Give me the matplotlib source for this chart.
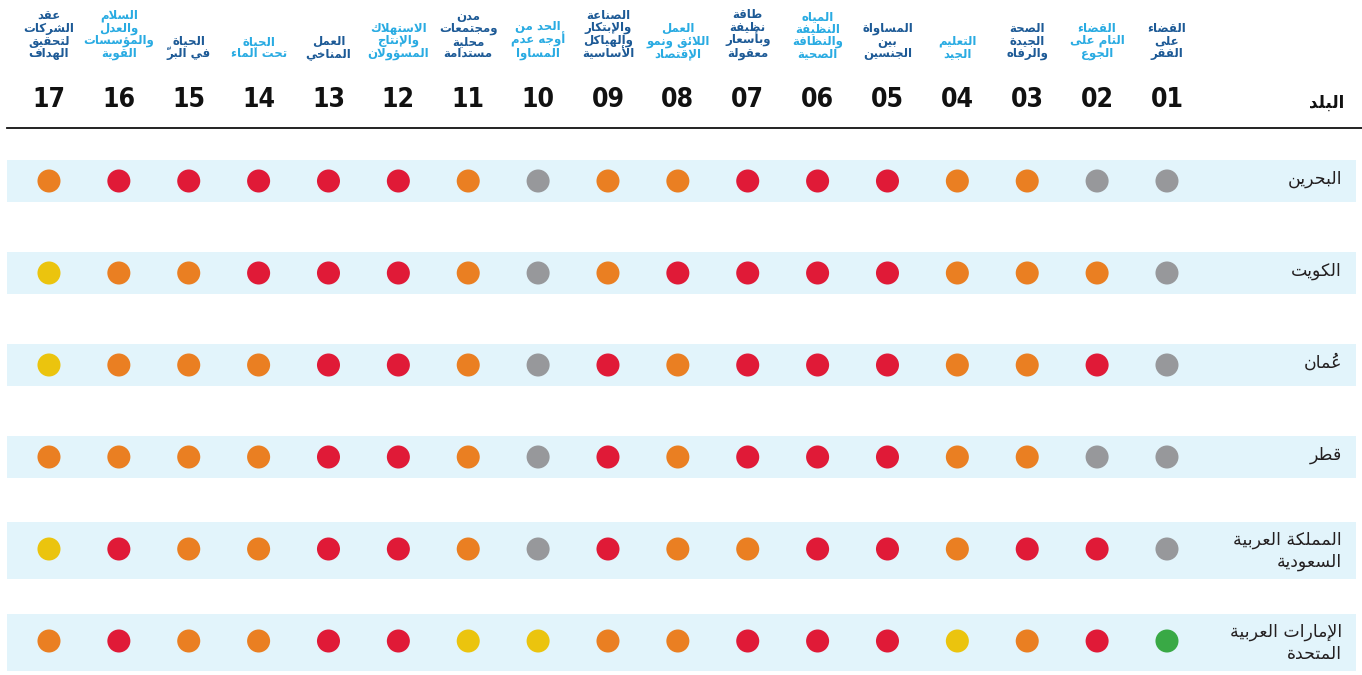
import matplotlib
matplotlib.use("Agg")
import matplotlib.pyplot as plt
from matplotlib import font_manager

# ---- data ----
goal_numbers = ["01", "02", "03", "04", "05", "06", "07", "08", "09",
                "10", "11", "12", "13", "14", "15", "16", "17"]
goal_names = [
    "القضاء\nعلى\nالفقر",
    "القضاء\nالتام على\nالجوع",
    "الصحة\nالجيدة\nوالرفاه",
    "التعليم\nالجيد",
    "المساواة\nبين\nالجنسين",
    "المياه\nالنظيفة\nوالنظافة\nالصحية",
    "طاقة\nنظيفة\nوبأسعار\nمعقولة",
    "العمل\nاللائق ونمو\nالإقتصاد",
    "الصناعة\nوالإبتكار\nوالهياكل\nالأساسية",
    "الحد من\nأوجه عدم\nالمساوا",
    "مدن\nومجتمعات\nمحلية\nمستدامة",
    "الاستهلاك\nوالإنتاج\nالمسؤولان",
    "العمل\nالمناخي",
    "الحياة\nتحت الماء",
    "الحياة\nفي البرّ",
    "السلام\nوالعدل\nوالمؤسسات\nالقوية",
    "عقد\nالشركات\nلتحقيق\nالهداف",
]
countries = [
    "البحرين",
    "الكويت",
    "عُمان",
    "قطر",
    "المملكة العربية\nالسعودية",
    "الإمارات العربية\nالمتحدة",
]
# status per goal 01..17: g=grey, r=red, o=orange, y=yellow, G=green
bahrain = ["g", "g", "o", "o", "r", "r", "r", "o", "o", "g", "o", "r", "r", "r", "r", "r", "o"]
kuwait  = ["g", "o", "o", "o", "r", "r", "r", "r", "o", "g", "o", "r", "r", "r", "o", "o", "y"]
oman    = ["g", "r", "o", "o", "r", "r", "r", "o", "r", "g", "o", "r", "r", "o", "o", "o", "y"]
qatar   = ["g", "g", "o", "o", "r", "r", "r", "o", "r", "g", "o", "r", "r", "o", "o", "o", "o"]
saudi   = ["g", "r", "r", "o", "r", "r", "o", "o", "r", "g", "o", "r", "r", "o", "o", "r", "y"]
uae     = ["G", "r", "o", "y", "r", "r", "r", "o", "o", "y", "y", "r", "r", "o", "o", "r", "o"]
statuses = [bahrain, kuwait, oman, qatar, saudi, uae]
header_title = "البلد"

status_colors = {"g": "#97989b", "r": "#e01a37", "o": "#ea7f22",
                 "y": "#ebc40e", "G": "#39a945"}
dark_blue = "#1d5a96"
light_blue = "#29abe2"

# narrow font for the goal numbers if there is one
_fonts = font_manager.fontManager.ttflist
_names = {f.name for f in _fonts}
if "Liberation Sans Narrow" in _names:
    num_font = dict(family="Liberation Sans Narrow")
elif any(f.name == "DejaVu Sans" and f.stretch == "condensed" for f in _fonts):
    num_font = dict(family="DejaVu Sans", fontstretch="condensed")
else:
    num_font = dict(family="DejaVu Sans")


# ---- tiny arabic shaper (matplotlib has no arabic shaping / bidi) ----
_forms_order = [("\u0621", 1), ("\u0622", 2), ("\u0623", 2), ("\u0624", 2), ("\u0625", 2),
                ("\u0626", 4), ("\u0627", 2), ("\u0628", 4), ("\u0629", 2), ("\u062A", 4),
                ("\u062B", 4), ("\u062C", 4), ("\u062D", 4), ("\u062E", 4), ("\u062F", 2),
                ("\u0630", 2), ("\u0631", 2), ("\u0632", 2), ("\u0633", 4), ("\u0634", 4),
                ("\u0635", 4), ("\u0636", 4), ("\u0637", 4), ("\u0638", 4), ("\u0639", 4),
                ("\u063A", 4), ("\u0641", 4), ("\u0642", 4), ("\u0643", 4), ("\u0644", 4),
                ("\u0645", 4), ("\u0646", 4), ("\u0647", 4), ("\u0648", 2), ("\u0649", 2),
                ("\u064A", 4)]
FORMS = {}
_cp = 0xFE80
for ch, n in _forms_order:
    FORMS[ch] = [chr(_cp + i) for i in range(n)]
    _cp += n
LAM_ALEF = {"\u0622": ("\uFEF5", "\uFEF6"), "\u0623": ("\uFEF7", "\uFEF8"),
            "\u0625": ("\uFEF9", "\uFEFA"), "\u0627": ("\uFEFB", "\uFEFC")}


def is_mark(c):
    return 0x064B <= ord(c) <= 0x0652


def shape_line(s):
    clusters = []  # [base, marks]
    for c in s:
        if is_mark(c) and clusters:
            clusters[-1][1] += c
        else:
            clusters.append([c, ""])
    # lam-alef ligatures
    merged = []
    i = 0
    while i < len(clusters):
        b, m = clusters[i]
        if b == "\u0644" and i + 1 < len(clusters) and clusters[i + 1][0] in LAM_ALEF:
            merged.append(["LA" + clusters[i + 1][0], m + clusters[i + 1][1]])
            i += 2
        else:
            merged.append([b, m])
            i += 1

    def kind(b):
        if b.startswith("LA"):
            return 2
        if b in FORMS:
            return len(FORMS[b])
        return 0

    out = []
    for i, (b, m) in enumerate(merged):
        k = kind(b)
        prev_k = kind(merged[i - 1][0]) if i > 0 else 0
        next_k = kind(merged[i + 1][0]) if i + 1 < len(merged) else 0
        jp = k >= 2 and prev_k == 4
        jn = k == 4 and next_k >= 2
        if b.startswith("LA"):
            g = LAM_ALEF[b[2]][1 if jp else 0]
        elif k == 0:
            g = b
        elif k == 1:
            g = FORMS[b][0]
        else:
            idx = 3 if (jp and jn) else 1 if jp else 2 if jn else 0
            g = FORMS[b][idx]
        # mark goes before its base in visual order so it sits on top of it
        out.append(m + g)
    return "".join(reversed(out))


def ar(s):
    return "\n".join(shape_line(line) for line in s.split("\n"))


# ---- figure ----
W, H = 1362, 675
fig = plt.figure(figsize=(W / 100, H / 100), dpi=100)
ax = fig.add_axes([0, 0, 1, 1])
ax.set_axis_off()

# goal k (1..17) sits at pixel 1167 - (k-1)*69.875 ; row r at pixel 181 + 92*r
ax.set_xlim(17.701, -1.791)
ax.set_ylim((H - 181) / 92, -181 / 92)


def fy(px):
    return 1 - px / H


xt = ax.get_xaxis_transform()

# bands
for r, name in enumerate(countries):
    two = "\n" in name
    lo, hi = (0.29, 0.33) if two else (0.23, 0.23)
    ax.axhspan(r - lo, r + hi, xmin=7 / W, xmax=1356 / W,
               color="#e2f4fb", lw=0, zorder=0)
    ax.text(1342 / W, r + (0.02 if two else -0.02), ar(name), transform=ax.get_yaxis_transform(),
            ha="right", va="center", fontsize=12.5, color="#231f20",
            family="DejaVu Sans", linespacing=1.25)

# dots
for r, row in enumerate(statuses):
    xs = [int(n) for n in goal_numbers]
    ax.scatter(xs, [r] * len(xs), s=275, c=[status_colors[v] for v in row],
               linewidths=0, zorder=3)

# header
for num, name in zip(goal_numbers, goal_names):
    k = int(num)
    col = dark_blue if k % 2 == 1 else light_blue
    ax.text(k, fy(60), ar(name), transform=xt, ha="center", va="bottom",
            fontsize=8.5, fontweight="bold", color=col, linespacing=0.93,
            family="DejaVu Sans")
    ax.text(k, fy(100), num, transform=xt, ha="center", va="center",
            fontsize=19, fontweight="bold", color="#111111", **num_font)

ax.text(1327 / W, fy(103), ar(header_title), transform=ax.transAxes,
        ha="center", va="center", fontsize=12, fontweight="bold",
        color="#111111", family="DejaVu Sans")
ax.plot([7 / W, 1], [fy(128), fy(128)], transform=ax.transAxes,
        color="#111111", lw=1.3, clip_on=False)

fig.savefig("out.png", dpi=100)
